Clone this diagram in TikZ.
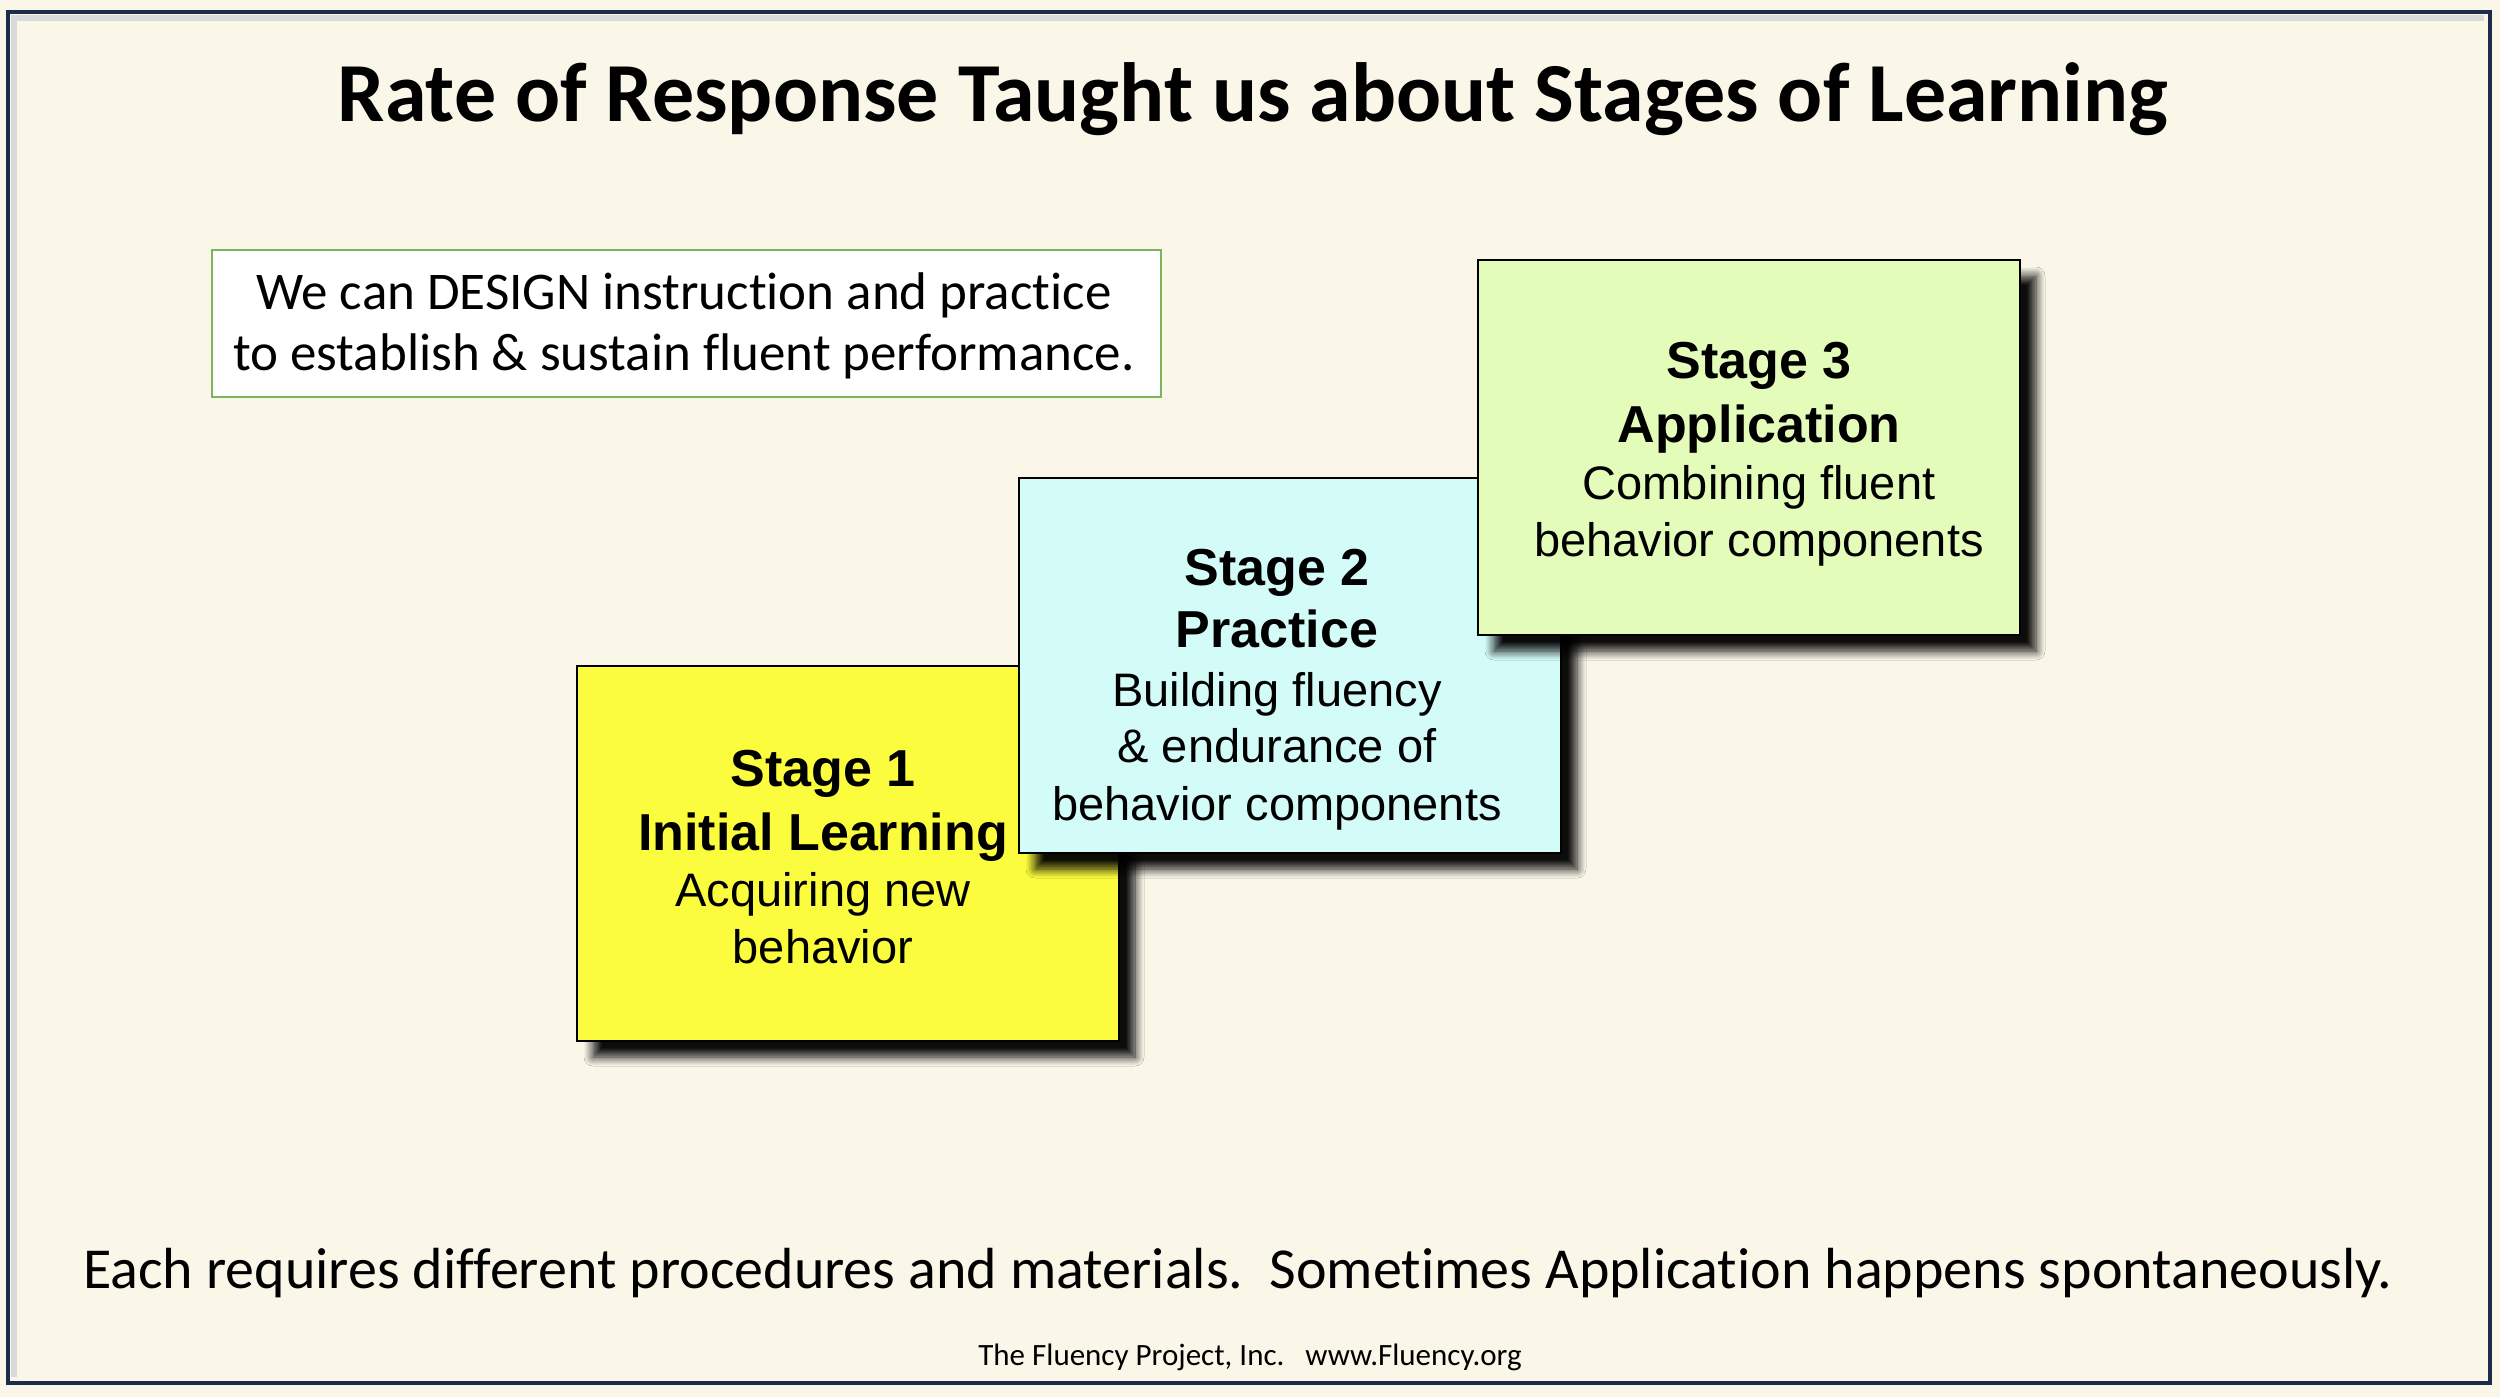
\documentclass[tikz,border=0pt]{standalone}
\usepackage{fontspec,tikz}
\usetikzlibrary{shadows.blur}
\setmainfont{Carlito}[Ligatures=NoCommon]
\newfontfamily\arialfont{Liberation Sans}
\definecolor{slidebg}{HTML}{FAF7E9}
\definecolor{framecol}{HTML}{1F2B4A}
\definecolor{notegreen}{HTML}{7CB35E}
\definecolor{stageyellow}{HTML}{FCFC3E}
\definecolor{stagecyan}{HTML}{D3FCF9}
\definecolor{stagegreen}{HTML}{E4FCBA}
\tikzset{
  stagebox/.style={draw=black,line width=2pt,blur shadow={shadow xshift=16pt,shadow yshift=-16pt,shadow blur radius=9pt,shadow blur steps=10,shadow opacity=95}},
  stagehead/.style={anchor=base,inner sep=0pt,font=\arialfont\bfseries\fontsize{52}{62}\selectfont},
  stagetext/.style={anchor=base,inner sep=0pt,font=\arialfont\fontsize{47}{57}\selectfont},
  notetext/.style={anchor=base,inner sep=0pt,font=\fontsize{53}{63}\selectfont},
}
\begin{document}
\begin{tikzpicture}[x=1pt,y=-1pt]
\path[use as bounding box,fill=slidebg] (0,0) rectangle (2500,1397);
\draw[black!15,line width=6pt] (14,1377) -- (14,18) -- (2484,18);
\draw[framecol,line width=4pt] (8,12) rectangle (2490,1383);
\node (title) [anchor=base,inner sep=0pt,font=\bfseries\fontsize{84}{100}\selectfont] at (1253,121) {Rate of Response Taught us about Stages of Learning};
% note box
\draw[notegreen,line width=2pt,fill=white] (212,250) rectangle (1161,397);
\node (note1) [notetext] at (684,309) {We can DESIGN instruction and practice};
\node (note2) [notetext] at (684,370) {to establish \& sustain fluent performance.};
% stage 1
\filldraw[stagebox,fill=stageyellow] (577,666) rectangle (1119,1041);
\node (s1head) [stagehead] at (823,786) {Stage 1};
\node (s1name) [stagehead] at (823,850) {Initial Learning};
\node (s1texta) [stagetext] at (823,906) {Acquiring new};
\node (s1textb) [stagetext] at (823,963) {behavior};
% stage 2
\filldraw[stagebox,fill=stagecyan] (1019,478) rectangle (1561,853);
\node (s2head) [stagehead] at (1277,585) {Stage 2};
\node (s2name) [stagehead] at (1277,647) {Practice};
\node (s2texta) [stagetext] at (1277,706) {Building fluency};
\node (s2textb) [stagetext] at (1277,762) {\& endurance of};
\node (s2textc) [stagetext] at (1277,820) {behavior components};
% stage 3
\filldraw[stagebox,fill=stagegreen] (1478,260) rectangle (2020,635);
\node (s3head) [stagehead] at (1759,378) {Stage 3};
\node (s3name) [stagehead] at (1759,442) {Application};
\node (s3texta) [stagetext] at (1759,499) {Combining fluent};
\node (s3textb) [stagetext] at (1759,556) {behavior components};
% bottom lines
\node (summary) [anchor=base,inner sep=0pt,font=\fontsize{58}{70}\selectfont] at (1238,1288) {Each requires different procedures and materials.~~Sometimes Application happens spontaneously.};
\node (footer) [anchor=base,inner sep=0pt,font=\fontsize{31}{37}\selectfont] at (1250,1365) {The Fluency Project, Inc.~~~www.Fluency.org};
\end{tikzpicture}
\end{document}
